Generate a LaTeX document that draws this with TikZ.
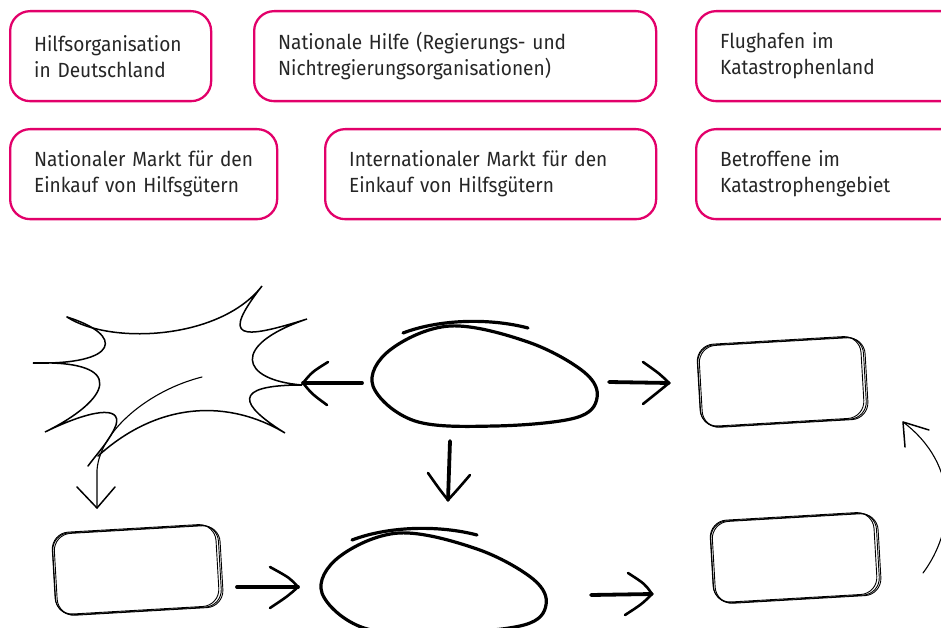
\documentclass[tikz,border=0pt]{standalone}
\usepackage{fontspec}
\setmainfont{Fira Sans}[FakeStretch=0.93]
\definecolor{pinkc}{RGB}{226,0,106}
\tikzset{
  pinkbox/.style={draw=pinkc, line width=2.3pt, rounded corners=20pt, anchor=north west,
    minimum height=90pt, inner xsep=24pt, inner ysep=0pt, align=left,
    font=\fontsize{20.5}{26}\selectfont, text=black!85},
  sbox/.style={draw=black, line width=0.9pt, rounded corners=17pt, minimum width=166pt,
    minimum height=82pt, inner sep=0pt},
  blobline/.style={draw=black, line width=3.2pt, line cap=round, line join=round},
  starline/.style={draw=black, line width=1.5pt, line cap=round},
  shaft/.style={draw=black, line width=3.8pt, line cap=round},
  headline/.style={draw=black, line width=2.6pt, line cap=round, line join=round},
  thinline/.style={draw=black, line width=1.1pt, line cap=round, line join=round}
}
\newcommand\sketchbox[4]{% cx, cy, angle, name
  \node[sbox, rotate=#3] (#4) at (#1,#2) {};
  \node[sbox, rotate=#3, xshift=1.6pt, yshift=-0.6pt] at (#1,#2) {};
  \node[sbox, rotate=#3, xshift=-1.4pt, yshift=0.8pt, minimum width=164pt] at (#1,#2) {};
}
\newcommand\blobshape{%
  \draw[blobline] plot[smooth cycle, tension=0.6] coordinates {(373,386) (390,350) (450,326) (528,342) (584,372) (597,398) (575,418) (495,426) (415,421)};
  \draw[blobline] (403,333) .. controls (440,319) and (490,318) .. (528,328);
}
\begin{document}
\begin{tikzpicture}[x=1pt,y=-1pt]
\useasboundingbox (0,0) rectangle (941,628);
\clip (0,0) rectangle (941,628);
% pink boxes
\node[pinkbox, minimum width=201pt, text width=153pt] (b1) at (9,10) {Hilfsorganisation\\in Deutschland};
\node[pinkbox, minimum width=402pt, text width=354pt] (b2) at (253,10) {Nationale Hilfe (Regierungs- und\\Nichtregierungsorganisationen)};
\node[pinkbox, minimum width=270pt, text width=222pt] (b3) at (695,10) {Flughafen im\\Katastrophenland};
\node[pinkbox, minimum width=267pt, text width=219pt] (b4) at (9,128) {Nationaler Markt f\"ur den\\Einkauf von Hilfsg\"utern};
\node[pinkbox, minimum width=331pt, text width=283pt] (b5) at (324,128) {Internationaler Markt f\"ur den\\Einkauf von Hilfsg\"utern};
\node[pinkbox, minimum width=270pt, text width=222pt] (b6) at (695,128) {Betroffene im\\Katastrophengebiet};

% explosion star
\draw[starline] (67,317) .. controls (110,345) and (220,340) .. (262,286)
  .. controls (220,340) and (240,340) .. (307,319)
  .. controls (230,345) and (240,380) .. (302,385)
  .. controls (230,385) and (240,405) .. (285,433)
  .. controls (230,400) and (160,400) .. (98,456);
\draw[starline] (88,466) .. controls (100,450) and (110,440) .. (116,425)
  .. controls (122,405) and (90,410) .. (45,432)
  .. controls (110,400) and (130,360) .. (33,363)
  .. controls (120,365) and (125,335) .. (67,317);
% thin arrow from star
\coordinate (st1) at (202,377);
\coordinate (st2) at (97,508);
\draw[thinline] (st1) .. controls (150,390) and (100,430) .. (97,470) -- (st2);
\draw[thinline, line width=1.5pt] (77,487) -- (st2) -- (115,487);

% blobs
\begin{scope}
\blobshape
\coordinate (blobA) at (485,378);
\end{scope}
\begin{scope}[shift={(-51,207)}]
\blobshape
\coordinate (blobB) at (485,378);
\end{scope}

% sketch boxes
\sketchbox{782}{382}{3.3}{r1}
\sketchbox{795}{558}{3.3}{r2}
\sketchbox{137}{570}{3.3}{r3}

% thick arrows
% blob -> star
\coordinate (a1s) at (362,383); \coordinate (a1t) at (303,383);
\draw[shaft] (a1s) -- (a1t);
\draw[headline] (328,362) .. controls (312,372) .. (a1t) .. controls (312,394) .. (327,405);
% blob -> right box
\coordinate (a2s) at (609,382); \coordinate (a2t) at (669,383);
\draw[shaft] (a2s) -- (a2t);
\draw[headline] (643,362) .. controls (660,374) .. (a2t) .. controls (658,392) .. (643,404);
% blob down
\coordinate (a3s) at (450,441); \coordinate (a3t) at (448,500);
\draw[shaft] (a3s) -- (a3t);
\draw[headline] (428,473) .. controls (440,490) .. (a3t) .. controls (458,489) .. (470,475);
% left box -> bottom blob
\coordinate (a4s) at (237,587); \coordinate (a4t) at (298,587);
\draw[shaft] (a4s) -- (a4t);
\draw[headline] (270,567) .. controls (290,578) .. (a4t) .. controls (288,596) .. (270,608);
% bottom blob -> right box
\coordinate (a5s) at (591,595); \coordinate (a5t) at (652,594);
\draw[shaft] (a5s) -- (a5t);
\draw[headline] (628,573) .. controls (645,584) .. (a5t) .. controls (642,604) .. (625,615);
% thin curved arrow right
\coordinate (a6s) at (923,573); \coordinate (a6t) at (903,422);
\draw[thinline] (a6s) .. controls (955,530) and (960,465) .. (a6t);
\draw[thinline, line width=1.5pt] (905,447) -- (a6t) -- (929,430);
\end{tikzpicture}
\end{document}
